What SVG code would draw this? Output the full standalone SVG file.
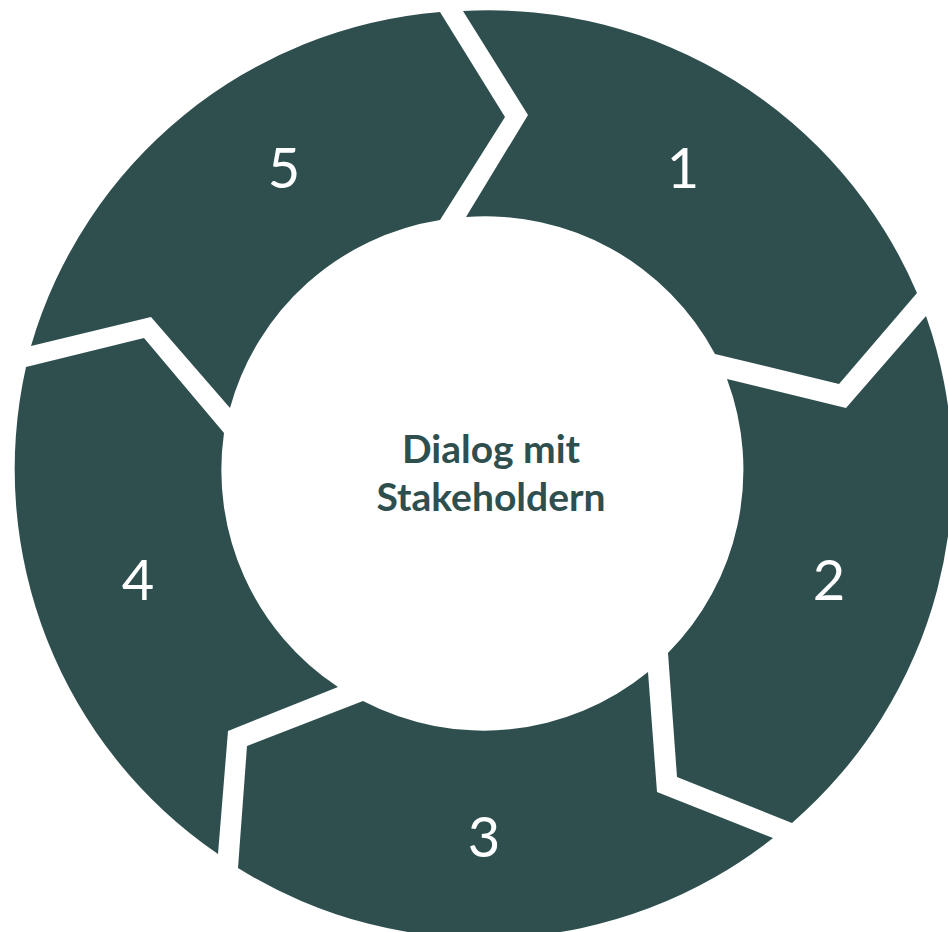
<svg xmlns="http://www.w3.org/2000/svg" width="948" height="932" viewBox="0 0 948 932">
<style>
.seg{fill:#2f4f4f;stroke:none}
.num{font-family:Lato,"Liberation Sans",sans-serif;font-size:56px;fill:#ffffff;text-anchor:middle}
.ctr{font-family:Lato,"Liberation Sans",sans-serif;font-size:39px;font-weight:bold;fill:#2f4f4f;text-anchor:middle}
</style>
<rect width="948" height="932" fill="#ffffff"/>
<g id="step1">
<path class="seg" d="M463,11 A466,466 0 0 1 917,293 L839,384 L715,354 A260,260 0 0 0 466,217 L528,115 Z"/>
<text class="num" x="683" y="188">1</text>
</g>
<g id="step2">
<path class="seg" d="M926,316 A466,466 0 0 1 792,823 L677,777 L668,653 A260,260 0 0 0 727,379 L846,408 Z"/>
<text class="num" x="829" y="600">2</text>
</g>
<g id="step3">
<path class="seg" d="M773,838 A466,466 0 0 1 238,868 L247,746 L363,701 A260,260 0 0 0 648,672 L657,792 Z"/>
<text class="num" x="484" y="857">3</text>
</g>
<g id="step4">
<path class="seg" d="M218,854 A466,466 0 0 1 26,367 L144,338 L224,433 A260,260 0 0 0 338,687 L228,731 Z"/>
<text class="num" x="138" y="600">4</text>
</g>
<g id="step5">
<path class="seg" d="M31,346 A466,466 0 0 1 440,12 L505,117 L440,220 A260,260 0 0 0 230,408 L151,317 Z"/>
<text class="num" x="284" y="188">5</text>
</g>
<g id="center">
<text class="ctr" x="491" y="463">Dialog mit</text>
<text class="ctr" x="491" y="511">Stakeholdern</text>
</g>
<g id="connectors"/>
</svg>
